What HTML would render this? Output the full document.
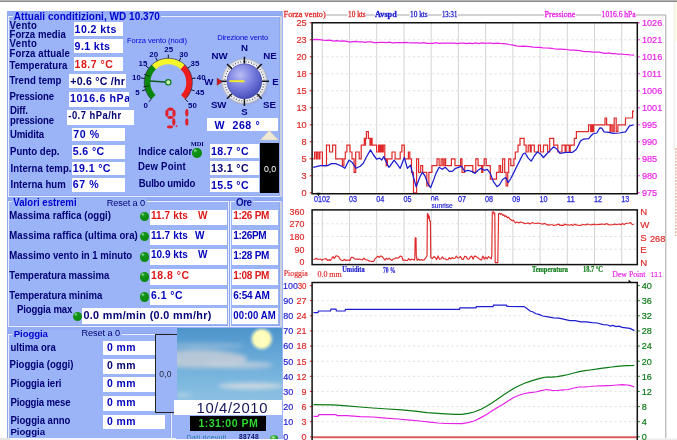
<!DOCTYPE html>
<html><head><meta charset="utf-8"><title>Weather Display</title>
<style>
html,body{margin:0;padding:0;background:#fff;}
body{width:677px;height:440px;position:relative;overflow:hidden;font-family:"Liberation Sans",sans-serif;}
.b{position:absolute;}
.t{position:absolute;white-space:pre;}
svg text{white-space:pre;}
#w{position:absolute;left:0;top:0;width:677px;height:440px;filter:blur(0.35px);}
</style></head><body><div id="w">
<div class="b" style="left:0;top:0;width:677px;height:1px;background:#b4b4b4"></div><div class="b" style="left:0;top:1px;width:677px;height:1px;background:#8a8a8a"></div>
<div class="b" style="left:7.0px;top:11.0px;width:274.6px;height:429.0px;background:#9bb4f7;"></div>
<div class="b" style="left:281.6px;top:11.0px;width:0.4px;height:429.0px;background:#9bb4f7;"></div>
<div class="b" style="left:7.0px;top:11.0px;width:275.0px;height:4.8px;background:#93aef5;"></div>
<div class="b" style="left:7.0px;top:197.0px;width:275.0px;height:4.2px;background:#8eaaf5;"></div>
<div class="b" style="left:7.0px;top:327.0px;width:169.5px;height:6.6px;background:#93aef5;"></div>
<div class="b" style="left:7.6px;top:15.8px;width:273.2px;height:180.79999999999998px;border:1px solid #e9eeff;box-shadow:-0.6px -0.6px 0 #8a9fe0, inset -0.6px -0.6px 0 #8a9fe0;box-sizing:border-box;"></div>
<div class="b" style="left:7.6px;top:201.2px;width:221.4px;height:125.60000000000002px;border:1px solid #e9eeff;box-shadow:-0.6px -0.6px 0 #8a9fe0, inset -0.6px -0.6px 0 #8a9fe0;box-sizing:border-box;"></div>
<div class="b" style="left:230px;top:201.2px;width:50.80000000000001px;height:125.60000000000002px;border:1px solid #e9eeff;box-shadow:-0.6px -0.6px 0 #8a9fe0, inset -0.6px -0.6px 0 #8a9fe0;box-sizing:border-box;"></div>
<div class="b" style="left:7.6px;top:333.6px;width:164.20000000000002px;height:111.39999999999998px;border:1px solid #e9eeff;box-shadow:-0.6px -0.6px 0 #8a9fe0, inset -0.6px -0.6px 0 #8a9fe0;box-sizing:border-box;"></div>
<div class="b" style="left:279.9px;top:16.4px;width:2.5px;height:180.4px;background:#cdd2de;"></div>
<div class="b" style="left:279.9px;top:201.8px;width:2.5px;height:125.2px;background:#cdd2de;"></div>
<div class="b" style="left:13.0px;top:15.0px;width:148.0px;height:7.0px;background:#9bb4f7;"></div>
<div class="b" style="left:12.0px;top:198.0px;width:135.0px;height:10.0px;background:#9bb4f7;"></div>
<div class="b" style="left:235.0px;top:198.0px;width:18.0px;height:10.0px;background:#9bb4f7;"></div>
<div class="b" style="left:12.0px;top:330.0px;width:110.0px;height:10.0px;background:#9bb4f7;"></div>
<span class="t" style="left:13.8px;top:11.93px;font:bold 10px/1 'Liberation Sans', sans-serif;color:#0000d0;letter-spacing:0.033px;transform:scaleY(1.05);transform-origin:0 8.46px;">Attuali conditizioni, WD 10.370</span>
<span class="t" style="left:9.5px;top:21.07px;font:bold 9.6px/1 'Liberation Sans', sans-serif;color:#000074;letter-spacing:0.341px;transform:scaleY(1.08);transform-origin:0 8.13px;">Vento</span>
<span class="t" style="left:9.5px;top:29.87px;font:bold 9.6px/1 'Liberation Sans', sans-serif;color:#000074;letter-spacing:0.029px;transform:scaleY(1.08);transform-origin:0 8.13px;">Forza media</span>
<span class="t" style="left:9.5px;top:39.37px;font:bold 9.6px/1 'Liberation Sans', sans-serif;color:#000074;letter-spacing:0.341px;transform:scaleY(1.08);transform-origin:0 8.13px;">Vento</span>
<span class="t" style="left:9.5px;top:48.67px;font:bold 9.6px/1 'Liberation Sans', sans-serif;color:#000074;letter-spacing:0.091px;transform:scaleY(1.08);transform-origin:0 8.13px;">Forza attuale</span>
<span class="t" style="left:9.5px;top:61.17px;font:bold 9.6px/1 'Liberation Sans', sans-serif;color:#000074;letter-spacing:0.036px;transform:scaleY(1.08);transform-origin:0 8.13px;">Temperatura</span>
<span class="t" style="left:9.5px;top:75.77px;font:bold 9.6px/1 'Liberation Sans', sans-serif;color:#000074;letter-spacing:0.029px;transform:scaleY(1.08);transform-origin:0 8.13px;">Trend temp</span>
<span class="t" style="left:9.5px;top:92.17px;font:bold 9.6px/1 'Liberation Sans', sans-serif;color:#000074;letter-spacing:-0.174px;transform:scaleY(1.08);transform-origin:0 8.13px;">Pressione</span>
<span class="t" style="left:10.0px;top:105.97px;font:bold 9.6px/1 'Liberation Sans', sans-serif;color:#000074;letter-spacing:-0.165px;transform:scaleY(1.08);transform-origin:0 8.13px;">Diff.</span>
<span class="t" style="left:10.0px;top:116.07px;font:bold 9.6px/1 'Liberation Sans', sans-serif;color:#000074;letter-spacing:-0.168px;transform:scaleY(1.08);transform-origin:0 8.13px;">pressione</span>
<span class="t" style="left:10.0px;top:129.87px;font:bold 9.6px/1 'Liberation Sans', sans-serif;color:#000074;letter-spacing:-0.200px;transform:scaleY(1.08);transform-origin:0 8.13px;">Umidita</span>
<span class="t" style="left:10.0px;top:146.97px;font:bold 9.6px/1 'Liberation Sans', sans-serif;color:#000074;letter-spacing:-0.010px;transform:scaleY(1.08);transform-origin:0 8.13px;">Punto dep.</span>
<span class="t" style="left:10.5px;top:163.77px;font:bold 9.6px/1 'Liberation Sans', sans-serif;color:#000074;letter-spacing:0.061px;transform:scaleY(1.08);transform-origin:0 8.13px;">Interna temp.</span>
<span class="t" style="left:10.5px;top:180.07px;font:bold 9.6px/1 'Liberation Sans', sans-serif;color:#000074;letter-spacing:0.037px;transform:scaleY(1.08);transform-origin:0 8.13px;">Interna hum</span>
<div class="b" style="left:73.6px;top:22.0px;width:49.0px;height:14.4px;background:#fff;"></div>
<span class="t" style="left:74.6px;top:24.03px;font:bold 10.6px/1 'Liberation Sans', sans-serif;color:#0000bc;letter-spacing:0.401px;transform:scaleY(1.07);transform-origin:0 8.97px;">10.2 kts</span>
<div class="b" style="left:73.6px;top:39.4px;width:49.0px;height:14.1px;background:#fff;"></div>
<span class="t" style="left:74.6px;top:41.03px;font:bold 10.6px/1 'Liberation Sans', sans-serif;color:#0000bc;letter-spacing:0.400px;transform:scaleY(1.07);transform-origin:0 8.97px;">9.1 kts</span>
<div class="b" style="left:73.6px;top:57.3px;width:49.0px;height:13.7px;background:#fff;"></div>
<span class="t" style="left:74.6px;top:59.13px;font:bold 10.6px/1 'Liberation Sans', sans-serif;color:#dc1818;letter-spacing:0.489px;transform:scaleY(1.07);transform-origin:0 8.97px;">18.7 °C</span>
<div class="b" style="left:69.0px;top:74.0px;width:56.6px;height:14.0px;background:#fff;overflow:hidden"></div>
<span class="t" style="left:70.3px;top:75.53px;font:bold 10.6px/1 'Liberation Sans', sans-serif;color:#000074;letter-spacing:0.235px;transform:scaleY(1.07);transform-origin:0 8.97px;">+0.6 °C /hr</span>
<div class="b" style="left:69.0px;top:92.2px;width:60.4px;height:14.6px;background:#fff;"></div>
<div class="b" style="left:69px;top:92.2px;width:60.4px;height:14.6px;overflow:hidden"><span class="t" style="left:0.9px;top:0.83px;font:bold 10.6px/1 'Liberation Sans', sans-serif;color:#0000bc;letter-spacing:0.600px;transform:scaleY(1.07);transform-origin:0 8.97px;">1016.6 hPa</span></div>
<div class="b" style="left:67.3px;top:110.0px;width:67.1px;height:14.6px;background:#fff;"></div>
<span class="t" style="left:68.3px;top:111.14px;font:bold 9.4px/1 'Liberation Sans', sans-serif;color:#000074;letter-spacing:0.494px;transform:scaleY(1.07);transform-origin:0 7.96px;">-0.7 hPa/hr</span>
<div class="b" style="left:72.3px;top:127.6px;width:52.7px;height:13.8px;background:#fff;"></div>
<span class="t" style="left:73.3px;top:128.53px;font:bold 10.6px/1 'Liberation Sans', sans-serif;color:#0000bc;letter-spacing:0.580px;transform:scaleY(1.07);transform-origin:0 8.97px;">70 %</span>
<div class="b" style="left:72.3px;top:144.7px;width:52.7px;height:14.3px;background:#fff;"></div>
<span class="t" style="left:72.8px;top:146.13px;font:bold 10.6px/1 'Liberation Sans', sans-serif;color:#0000bc;letter-spacing:0.366px;transform:scaleY(1.07);transform-origin:0 8.97px;">5.6 °C</span>
<div class="b" style="left:72.3px;top:162.3px;width:52.7px;height:13.1px;background:#fff;"></div>
<span class="t" style="left:72.8px;top:162.93px;font:bold 10.6px/1 'Liberation Sans', sans-serif;color:#0000bc;letter-spacing:0.372px;transform:scaleY(1.07);transform-origin:0 8.97px;">19.1 °C</span>
<div class="b" style="left:72.3px;top:178.4px;width:52.7px;height:14.0px;background:#fff;"></div>
<span class="t" style="left:72.8px;top:179.23px;font:bold 10.6px/1 'Liberation Sans', sans-serif;color:#0000bc;letter-spacing:0.580px;transform:scaleY(1.07);transform-origin:0 8.97px;">67 %</span>
<span class="t" style="left:138.3px;top:146.57px;font:bold 9.6px/1 'Liberation Sans', sans-serif;color:#000074;letter-spacing:0.059px;transform:scaleY(1.08);transform-origin:0 8.13px;">Indice calore</span>
<span class="t" style="left:138.0px;top:162.17px;font:bold 9.6px/1 'Liberation Sans', sans-serif;color:#000074;letter-spacing:0.175px;transform:scaleY(1.08);transform-origin:0 8.13px;">Dew Point</span>
<span class="t" style="left:138.8px;top:179.17px;font:bold 9.6px/1 'Liberation Sans', sans-serif;color:#000074;letter-spacing:-0.215px;transform:scaleY(1.08);transform-origin:0 8.13px;">Bulbo umido</span>
<span class="t" style="left:190.8px;top:141.44px;font:bold 6.4px/1 'Liberation Serif', serif;color:#000074;letter-spacing:-0.077px;">MDI</span>
<div class="b" style="left:192.3px;top:148.2px;width:9.6px;height:9.6px;border-radius:50%;background:radial-gradient(circle at 32% 26%,#9ae89a 0%,#14941a 20%,#0b880b 78%,#087008 100%);"></div>
<div class="b" style="left:209.7px;top:143.9px;width:49.0px;height:13.8px;background:#fff;"></div>
<span class="t" style="left:210.9px;top:145.73px;font:bold 10.6px/1 'Liberation Sans', sans-serif;color:#0000bc;letter-spacing:0.372px;transform:scaleY(1.07);transform-origin:0 8.97px;">18.7 °C</span>
<div class="b" style="left:209.7px;top:161.0px;width:49.0px;height:13.6px;background:#fff;"></div>
<span class="t" style="left:210.9px;top:162.73px;font:bold 10.6px/1 'Liberation Sans', sans-serif;color:#000074;letter-spacing:0.372px;transform:scaleY(1.07);transform-origin:0 8.97px;">13.1 °C</span>
<div class="b" style="left:209.7px;top:178.0px;width:49.0px;height:13.7px;background:#fff;"></div>
<span class="t" style="left:210.9px;top:180.03px;font:bold 10.6px/1 'Liberation Sans', sans-serif;color:#0000bc;letter-spacing:0.372px;transform:scaleY(1.07);transform-origin:0 8.97px;">15.5 °C</span>
<div class="b" style="left:206.8px;top:118.0px;width:70.9px;height:12.5px;background:#fff;"></div>
<span class="t" style="left:214.4px;top:119.73px;font:bold 10.6px/1 'Liberation Sans', sans-serif;color:#0000bc;letter-spacing:0.395px;transform:scaleY(1.07);transform-origin:0 8.97px;">W</span>
<span class="t" style="left:232.6px;top:119.73px;font:bold 10.6px/1 'Liberation Sans', sans-serif;color:#0000bc;letter-spacing:0.458px;transform:scaleY(1.07);transform-origin:0 8.97px;">268</span>
<span class="t" style="left:255.6px;top:119.73px;font:bold 10.6px/1 'Liberation Sans', sans-serif;color:#0000bc;letter-spacing:-0.238px;transform:scaleY(1.07);transform-origin:0 8.97px;">°</span>
<svg class="b" style="left:258px;top:129px" width="22" height="13" viewBox="0 0 22 13"><polygon points="2.4,11 11.2,1.4 20.4,11" fill="#efe9d6" stroke="#cfcab8" stroke-width="0.6"/></svg>
<div class="b" style="left:260.4px;top:143.4px;width:18.9px;height:50.0px;background:#000;"></div>
<span class="t" style="left:264.1px;top:165.45px;font:normal 8.8px/1 'Liberation Sans', sans-serif;color:#fff;letter-spacing:-0.116px;">0,0</span>
<span class="t" style="left:127.0px;top:36.57px;font:normal 7.6px/1 'Liberation Sans', sans-serif;color:#0404d4;letter-spacing:-0.098px;">Forza vento (nodi)</span>
<span class="t" style="left:217.2px;top:33.77px;font:normal 7.6px/1 'Liberation Sans', sans-serif;color:#0404d4;letter-spacing:-0.129px;">Direzione vento</span>
<span class="t" style="left:13.3px;top:198.27px;font:bold 9.6px/1 'Liberation Sans', sans-serif;color:#0000d0;letter-spacing:0.026px;transform:scaleY(1.06);transform-origin:0 8.13px;">Valori estremi</span>
<span class="t" style="left:106.7px;top:198.61px;font:normal 9.2px/1 'Liberation Sans', sans-serif;color:#000074;letter-spacing:-0.109px;">Reset a 0</span>
<span class="t" style="left:236.0px;top:198.10px;font:bold 9.8px/1 'Liberation Sans', sans-serif;color:#0c0c98;letter-spacing:-0.443px;transform:scaleY(1.06);transform-origin:0 8.30px;">Ore</span>
<span class="t" style="left:9.3px;top:211.07px;font:bold 9.6px/1 'Liberation Sans', sans-serif;color:#000074;letter-spacing:0.017px;transform:scaleY(1.08);transform-origin:0 8.13px;">Massima raffica (oggi)</span>
<span class="t" style="left:9.3px;top:231.17px;font:bold 9.6px/1 'Liberation Sans', sans-serif;color:#000074;letter-spacing:0.057px;transform:scaleY(1.08);transform-origin:0 8.13px;">Massima raffica (ultima ora)</span>
<span class="t" style="left:9.3px;top:251.17px;font:bold 9.6px/1 'Liberation Sans', sans-serif;color:#000074;letter-spacing:-0.009px;transform:scaleY(1.08);transform-origin:0 8.13px;">Massimo vento in 1 minuto</span>
<span class="t" style="left:9.3px;top:271.37px;font:bold 9.6px/1 'Liberation Sans', sans-serif;color:#000074;letter-spacing:-0.067px;transform:scaleY(1.08);transform-origin:0 8.13px;">Temperatura massima</span>
<span class="t" style="left:9.3px;top:290.77px;font:bold 9.6px/1 'Liberation Sans', sans-serif;color:#000074;letter-spacing:-0.042px;transform:scaleY(1.08);transform-origin:0 8.13px;">Temperatura minima</span>
<div class="b" style="left:150.0px;top:209.8px;width:76.7px;height:15.3px;background:#fff;"></div>
<div class="b" style="left:231.9px;top:209.8px;width:46.6px;height:15.3px;background:#fff;"></div>
<div class="b" style="left:150.0px;top:229.6px;width:76.7px;height:15.3px;background:#fff;"></div>
<div class="b" style="left:231.9px;top:229.6px;width:46.6px;height:15.3px;background:#fff;"></div>
<div class="b" style="left:150.0px;top:249.4px;width:76.7px;height:15.5px;background:#fff;"></div>
<div class="b" style="left:231.9px;top:249.4px;width:46.6px;height:15.5px;background:#fff;"></div>
<div class="b" style="left:150.0px;top:269.3px;width:76.7px;height:15.8px;background:#fff;"></div>
<div class="b" style="left:231.9px;top:269.3px;width:46.6px;height:15.8px;background:#fff;"></div>
<div class="b" style="left:150.0px;top:289.3px;width:76.7px;height:15.4px;background:#fff;"></div>
<div class="b" style="left:231.9px;top:289.3px;width:46.6px;height:15.4px;background:#fff;"></div>
<div class="b" style="left:139.8px;top:212.0px;width:9.4px;height:9.4px;border-radius:50%;background:radial-gradient(circle at 32% 26%,#9ae89a 0%,#14941a 20%,#0b880b 78%,#087008 100%);"></div>
<div class="b" style="left:139.8px;top:231.9px;width:9.4px;height:9.4px;border-radius:50%;background:radial-gradient(circle at 32% 26%,#9ae89a 0%,#14941a 20%,#0b880b 78%,#087008 100%);"></div>
<div class="b" style="left:139.8px;top:252.3px;width:9.4px;height:9.4px;border-radius:50%;background:radial-gradient(circle at 32% 26%,#9ae89a 0%,#14941a 20%,#0b880b 78%,#087008 100%);"></div>
<div class="b" style="left:139.8px;top:272.4px;width:9.4px;height:9.4px;border-radius:50%;background:radial-gradient(circle at 32% 26%,#9ae89a 0%,#14941a 20%,#0b880b 78%,#087008 100%);"></div>
<div class="b" style="left:139.8px;top:292.2px;width:9.4px;height:9.4px;border-radius:50%;background:radial-gradient(circle at 32% 26%,#9ae89a 0%,#14941a 20%,#0b880b 78%,#087008 100%);"></div>
<span class="t" style="left:150.9px;top:210.74px;font:bold 10px/1 'Liberation Sans', sans-serif;color:#dc1818;letter-spacing:0.123px;transform:scaleY(1.07);transform-origin:0 8.46px;">11.7 kts</span>
<span class="t" style="left:198.1px;top:210.74px;font:bold 10px/1 'Liberation Sans', sans-serif;color:#dc1818;letter-spacing:0.661px;transform:scaleY(1.07);transform-origin:0 8.46px;">W</span>
<span class="t" style="left:150.9px;top:230.64px;font:bold 10px/1 'Liberation Sans', sans-serif;color:#0000bc;letter-spacing:0.123px;transform:scaleY(1.07);transform-origin:0 8.46px;">11.7 kts</span>
<span class="t" style="left:194.9px;top:230.64px;font:bold 10px/1 'Liberation Sans', sans-serif;color:#0000bc;letter-spacing:0.661px;transform:scaleY(1.07);transform-origin:0 8.46px;">W</span>
<span class="t" style="left:150.9px;top:250.23px;font:bold 10px/1 'Liberation Sans', sans-serif;color:#0000bc;letter-spacing:0.044px;transform:scaleY(1.07);transform-origin:0 8.46px;">10.9 kts</span>
<span class="t" style="left:198.1px;top:250.23px;font:bold 10px/1 'Liberation Sans', sans-serif;color:#0000bc;letter-spacing:0.661px;transform:scaleY(1.07);transform-origin:0 8.46px;">W</span>
<span class="t" style="left:150.9px;top:271.10px;font:bold 10.4px/1 'Liberation Sans', sans-serif;color:#dc1818;letter-spacing:0.567px;transform:scaleY(1.07);transform-origin:0 8.80px;">18.8 °C</span>
<span class="t" style="left:150.9px;top:291.00px;font:bold 10.4px/1 'Liberation Sans', sans-serif;color:#0000bc;letter-spacing:0.537px;transform:scaleY(1.07);transform-origin:0 8.80px;">6.1 °C</span>
<span class="t" style="left:233.2px;top:210.74px;font:bold 10px/1 'Liberation Sans', sans-serif;color:#dc1818;letter-spacing:-0.265px;transform:scaleY(1.07);transform-origin:0 8.46px;">1:26 PM</span>
<span class="t" style="left:233.2px;top:230.84px;font:bold 10px/1 'Liberation Sans', sans-serif;color:#0000bc;letter-spacing:-0.303px;transform:scaleY(1.07);transform-origin:0 8.46px;">1:26PM</span>
<span class="t" style="left:233.2px;top:250.84px;font:bold 10px/1 'Liberation Sans', sans-serif;color:#0000bc;letter-spacing:-0.265px;transform:scaleY(1.07);transform-origin:0 8.46px;">1:28 PM</span>
<span class="t" style="left:233.2px;top:271.04px;font:bold 10px/1 'Liberation Sans', sans-serif;color:#dc1818;letter-spacing:-0.265px;transform:scaleY(1.07);transform-origin:0 8.46px;">1:08 PM</span>
<span class="t" style="left:233.2px;top:290.64px;font:bold 10px/1 'Liberation Sans', sans-serif;color:#0000bc;letter-spacing:-0.212px;transform:scaleY(1.07);transform-origin:0 8.46px;">6:54 AM</span>
<span class="t" style="left:17.0px;top:304.87px;font:bold 9.6px/1 'Liberation Sans', sans-serif;color:#000074;letter-spacing:-0.115px;transform:scaleY(1.08);transform-origin:0 8.13px;">Pioggia max</span>
<div class="b" style="left:82.2px;top:308.4px;width:144.5px;height:15.7px;background:#fff;"></div>
<div class="b" style="left:231.9px;top:308.4px;width:46.6px;height:15.7px;background:#fff;"></div>
<div class="b" style="left:72.7px;top:311.6px;width:9.2px;height:9.2px;border-radius:50%;background:radial-gradient(circle at 32% 26%,#9ae89a 0%,#14941a 20%,#0b880b 78%,#087008 100%);"></div>
<span class="t" style="left:83.4px;top:309.86px;font:bold 10.8px/1 'Liberation Sans', sans-serif;color:#000074;letter-spacing:0.351px;transform:scaleY(1.07);transform-origin:0 9.14px;">0.0 mm/min (0.0 mm/hr)</span>
<span class="t" style="left:233.3px;top:311.17px;font:bold 9.6px/1 'Liberation Sans', sans-serif;color:#0000bc;letter-spacing:0.101px;transform:scaleY(1.07);transform-origin:0 8.13px;">00:00 AM</span>
<span class="t" style="left:13.8px;top:328.87px;font:bold 9.6px/1 'Liberation Sans', sans-serif;color:#0000d0;letter-spacing:-0.111px;">Pioggia</span>
<span class="t" style="left:81.6px;top:329.21px;font:normal 9.2px/1 'Liberation Sans', sans-serif;color:#000074;letter-spacing:-0.109px;">Reset a 0</span>
<span class="t" style="left:10.5px;top:342.97px;font:bold 9.6px/1 'Liberation Sans', sans-serif;color:#000074;letter-spacing:-0.064px;transform:scaleY(1.08);transform-origin:0 8.13px;">ultima ora</span>
<div class="b" style="left:102.7px;top:340.8px;width:52.1px;height:14.7px;background:#fff;"></div>
<span class="t" style="left:107.0px;top:342.80px;font:bold 10.4px/1 'Liberation Sans', sans-serif;color:#0000bc;letter-spacing:0.411px;transform:scaleY(1.07);transform-origin:0 8.80px;">0 mm</span>
<span class="t" style="left:9.5px;top:360.37px;font:bold 9.6px/1 'Liberation Sans', sans-serif;color:#000074;letter-spacing:-0.006px;transform:scaleY(1.08);transform-origin:0 8.13px;">Pioggia (oggi)</span>
<div class="b" style="left:102.7px;top:359.0px;width:52.1px;height:14.8px;background:#fff;"></div>
<span class="t" style="left:107.0px;top:360.90px;font:bold 10.4px/1 'Liberation Sans', sans-serif;color:#000074;letter-spacing:0.411px;transform:scaleY(1.07);transform-origin:0 8.80px;">0 mm</span>
<span class="t" style="left:10.5px;top:379.17px;font:bold 9.6px/1 'Liberation Sans', sans-serif;color:#000074;letter-spacing:-0.067px;transform:scaleY(1.08);transform-origin:0 8.13px;">Pioggia ieri</span>
<div class="b" style="left:102.7px;top:377.2px;width:52.1px;height:14.9px;background:#fff;"></div>
<span class="t" style="left:107.0px;top:379.20px;font:bold 10.4px/1 'Liberation Sans', sans-serif;color:#0000bc;letter-spacing:0.411px;transform:scaleY(1.07);transform-origin:0 8.80px;">0 mm</span>
<span class="t" style="left:10.5px;top:398.17px;font:bold 9.6px/1 'Liberation Sans', sans-serif;color:#000074;letter-spacing:-0.171px;transform:scaleY(1.08);transform-origin:0 8.13px;">Pioggia mese</span>
<div class="b" style="left:102.7px;top:395.5px;width:52.1px;height:15.2px;background:#fff;"></div>
<span class="t" style="left:107.0px;top:397.80px;font:bold 10.4px/1 'Liberation Sans', sans-serif;color:#0000bc;letter-spacing:0.411px;transform:scaleY(1.07);transform-origin:0 8.80px;">0 mm</span>
<span class="t" style="left:10.5px;top:415.97px;font:bold 9.6px/1 'Liberation Sans', sans-serif;color:#000074;letter-spacing:-0.024px;transform:scaleY(1.08);transform-origin:0 8.13px;">Pioggia anno</span>
<div class="b" style="left:102.7px;top:414.5px;width:62.3px;height:14.9px;background:#fff;"></div>
<span class="t" style="left:107.0px;top:416.80px;font:bold 10.4px/1 'Liberation Sans', sans-serif;color:#0000bc;letter-spacing:0.411px;transform:scaleY(1.07);transform-origin:0 8.80px;">0 mm</span>
<div class="b" style="left:7px;top:426px;width:100px;height:10.8px;overflow:hidden"><span class="t" style="left:3.5px;top:1.27px;font:bold 9.6px/1 'Liberation Sans', sans-serif;color:#000074;letter-spacing:-0.028px;">Pioggia</span></div>
<div class="b" style="left:155.4px;top:333.8px;width:21.2px;height:79.4px;border:1.4px solid #222;border-right:none;box-sizing:border-box;background:#9bb4f7"></div>
<span class="t" style="left:159.3px;top:369.72px;font:normal 8.6px/1 'Liberation Sans', sans-serif;color:#2a2a40;letter-spacing:0.173px;">0,0</span>
<svg class="b" style="left:0;top:0" width="290" height="200" viewBox="0 0 290 200">
<defs><radialGradient id="sph" cx="38%" cy="32%" r="75%"><stop offset="0" stop-color="#b8bcf4"/><stop offset="0.45" stop-color="#7e84e2"/><stop offset="1" stop-color="#3e46b6"/></radialGradient><radialGradient id="ring" cx="50%" cy="50%" r="50%"><stop offset="0.7" stop-color="#ffffff"/><stop offset="0.9" stop-color="#eef0f4"/><stop offset="1" stop-color="#b8bcc8"/></radialGradient></defs>
<path d="M153.45,97.15 A21,21 0 0 1 153.92,66.99" fill="none" stroke="#0a860a" stroke-width="6"/>
<path d="M153.92,66.99 A21,21 0 0 1 182.68,66.99" fill="none" stroke="#f6f628" stroke-width="6"/>
<path d="M182.68,66.99 A21,21 0 0 1 183.15,97.15" fill="none" stroke="#ec1c1c" stroke-width="6"/>
<path d="M151.26,99.34 A24.1,24.1 0 1 1 185.34,99.34" fill="none" stroke="#202040" stroke-width="0.6"/>
<line x1="151.33" y1="99.27" x2="148.78" y2="101.82" stroke="#101030" stroke-width="1"/>
<line x1="145.47" y1="89.72" x2="142.05" y2="90.83" stroke="#101030" stroke-width="1"/>
<line x1="144.60" y1="78.55" x2="141.04" y2="77.98" stroke="#101030" stroke-width="1"/>
<line x1="148.88" y1="68.19" x2="145.97" y2="66.08" stroke="#101030" stroke-width="1"/>
<line x1="157.40" y1="60.92" x2="155.77" y2="57.71" stroke="#101030" stroke-width="1"/>
<line x1="168.30" y1="58.30" x2="168.30" y2="54.70" stroke="#101030" stroke-width="1"/>
<line x1="179.20" y1="60.92" x2="180.83" y2="57.71" stroke="#101030" stroke-width="1"/>
<line x1="187.72" y1="68.19" x2="190.63" y2="66.08" stroke="#101030" stroke-width="1"/>
<line x1="192.00" y1="78.55" x2="195.56" y2="77.98" stroke="#101030" stroke-width="1"/>
<line x1="191.13" y1="89.72" x2="194.55" y2="90.83" stroke="#101030" stroke-width="1"/>
<line x1="185.27" y1="99.27" x2="187.82" y2="101.82" stroke="#101030" stroke-width="1"/>
<line x1="168.3" y1="82.3" x2="149.75" y2="80.96" stroke="#0a5a1a" stroke-width="1.6"/>
<line x1="149.12" y1="85.83" x2="143.22" y2="86.92" stroke="#102010" stroke-width="0.8"/>
<line x1="149.77" y1="76.22" x2="144.07" y2="74.34" stroke="#102010" stroke-width="0.8"/>
<circle cx="168.3" cy="82.3" r="2.7" fill="#ccf0b4" stroke="#0a7a1a" stroke-width="1.2"/>
<text x="145.7" y="107.6" text-anchor="middle" font-family="Liberation Sans, sans-serif" font-weight="bold" font-size="7.9" fill="#000080">0</text>
<text x="137.5" y="95.1" text-anchor="middle" font-family="Liberation Sans, sans-serif" font-weight="bold" font-size="7.9" fill="#000080">5</text>
<text x="136.5" y="79.89999999999999" text-anchor="middle" font-family="Liberation Sans, sans-serif" font-weight="bold" font-size="7.9" fill="#000080">10</text>
<text x="143" y="65.89999999999999" text-anchor="middle" font-family="Liberation Sans, sans-serif" font-weight="bold" font-size="7.9" fill="#000080">15</text>
<text x="153.7" y="56.6" text-anchor="middle" font-family="Liberation Sans, sans-serif" font-weight="bold" font-size="7.9" fill="#000080">20</text>
<text x="168.7" y="51.6" text-anchor="middle" font-family="Liberation Sans, sans-serif" font-weight="bold" font-size="7.9" fill="#000080">25</text>
<text x="183.7" y="56.6" text-anchor="middle" font-family="Liberation Sans, sans-serif" font-weight="bold" font-size="7.9" fill="#000080">30</text>
<text x="195" y="65.89999999999999" text-anchor="middle" font-family="Liberation Sans, sans-serif" font-weight="bold" font-size="7.9" fill="#000080">35</text>
<text x="201.2" y="80.19999999999999" text-anchor="middle" font-family="Liberation Sans, sans-serif" font-weight="bold" font-size="7.9" fill="#000080">40</text>
<text x="200" y="95.1" text-anchor="middle" font-family="Liberation Sans, sans-serif" font-weight="bold" font-size="7.9" fill="#000080">45</text>
<text x="192.5" y="107.6" text-anchor="middle" font-family="Liberation Sans, sans-serif" font-weight="bold" font-size="7.9" fill="#000080">50</text>
<ellipse cx="170.4" cy="109.2" rx="3.1" ry="1.6" fill="#e0202c"/>
<ellipse cx="166.9" cy="113.2" rx="1.6" ry="3.6" fill="#e0202c"/>
<ellipse cx="174" cy="113.2" rx="1.6" ry="3.6" fill="#e0202c"/>
<ellipse cx="170.4" cy="117.3" rx="3.1" ry="1.6" fill="#e0202c"/>
<ellipse cx="173.8" cy="121.9" rx="1.6" ry="3.6" fill="#e0202c"/>
<ellipse cx="170" cy="126.8" rx="3.1" ry="1.6" fill="#e0202c"/>
<circle cx="176.5" cy="126.2" r="0.9" fill="#e0202c"/>
<ellipse cx="186.8" cy="112.8" rx="1.6" ry="3.7" fill="#e0202c"/>
<ellipse cx="186.8" cy="121.9" rx="1.6" ry="3.7" fill="#e0202c"/>
<circle cx="245.0" cy="82.1" r="23" fill="#8f98c8" opacity="0.55"/>
<circle cx="244.4" cy="81.3" r="22.6" fill="url(#ring)" stroke="#b4b8c6" stroke-width="0.6"/>
<circle cx="244.4" cy="81.3" r="19.6" fill="none" stroke="#2a2a3a" stroke-width="1.3" stroke-dasharray="0.75 1.99"/>
<line x1="244.40" y1="63.70" x2="244.40" y2="56.70" stroke="#14141c" stroke-width="1.5"/>
<line x1="256.85" y1="68.85" x2="261.79" y2="63.91" stroke="#14141c" stroke-width="1.5"/>
<line x1="262.00" y1="81.30" x2="269.00" y2="81.30" stroke="#14141c" stroke-width="1.5"/>
<line x1="256.85" y1="93.75" x2="261.79" y2="98.69" stroke="#14141c" stroke-width="1.5"/>
<line x1="244.40" y1="98.90" x2="244.40" y2="105.90" stroke="#14141c" stroke-width="1.5"/>
<line x1="231.95" y1="93.75" x2="227.01" y2="98.69" stroke="#14141c" stroke-width="1.5"/>
<line x1="226.80" y1="81.30" x2="219.80" y2="81.30" stroke="#14141c" stroke-width="1.5"/>
<line x1="231.95" y1="68.85" x2="227.01" y2="63.91" stroke="#14141c" stroke-width="1.5"/>
<circle cx="244.4" cy="81.3" r="17.4" fill="url(#sph)" stroke="#3c40a0" stroke-width="0.7"/>
<line x1="244.4" y1="81.3" x2="229.4" y2="81.1" stroke="#f4ea20" stroke-width="1.9"/>
<polygon points="217.2,78.2 217.2,85.2 222,81.7" fill="#d81818" stroke="#7a1010" stroke-width="0.5"/>
<text x="244.5" y="51.4" text-anchor="middle" font-family="Liberation Sans, sans-serif" font-weight="bold" font-size="9.7" fill="#000080">N</text>
<text x="270" y="58.699999999999996" text-anchor="middle" font-family="Liberation Sans, sans-serif" font-weight="bold" font-size="9.7" fill="#000080">NE</text>
<text x="275.6" y="84.80000000000001" text-anchor="middle" font-family="Liberation Sans, sans-serif" font-weight="bold" font-size="9.7" fill="#000080">E</text>
<text x="269.5" y="108.10000000000001" text-anchor="middle" font-family="Liberation Sans, sans-serif" font-weight="bold" font-size="9.7" fill="#000080">SE</text>
<text x="244.5" y="115.0" text-anchor="middle" font-family="Liberation Sans, sans-serif" font-weight="bold" font-size="9.7" fill="#000080">S</text>
<text x="218.7" y="108.10000000000001" text-anchor="middle" font-family="Liberation Sans, sans-serif" font-weight="bold" font-size="9.7" fill="#000080">SW</text>
<text x="208.8" y="84.80000000000001" text-anchor="middle" font-family="Liberation Sans, sans-serif" font-weight="bold" font-size="9.7" fill="#000080">W</text>
<text x="219.5" y="59.3" text-anchor="middle" font-family="Liberation Sans, sans-serif" font-weight="bold" font-size="9.7" fill="#000080">NW</text>
</svg>
<svg class="b" style="left:176.5px;top:328px" width="105" height="72" viewBox="0 0 105 72">
<defs><linearGradient id="skyg" x1="0" y1="0" x2="0" y2="1"><stop offset="0" stop-color="#4d94cb"/><stop offset="0.35" stop-color="#64a6d6"/><stop offset="0.75" stop-color="#7db8df"/><stop offset="1" stop-color="#8cc0e2"/></linearGradient><radialGradient id="sun" cx="50%" cy="50%" r="50%"><stop offset="0" stop-color="#ffffc4"/><stop offset="0.6" stop-color="#fdfbb6"/><stop offset="0.75" stop-color="#d8e6c4" stop-opacity="0.7"/><stop offset="1" stop-color="#7ab4dc" stop-opacity="0"/></radialGradient><filter id="bl" x="-30%" y="-150%" width="160%" height="400%"><feGaussianBlur stdDeviation="2.2"/></filter></defs>
<rect width="105" height="72" fill="url(#skyg)"/>
<g filter="url(#bl)"><ellipse cx="20" cy="31" rx="50" ry="9" fill="#c4ccd8" opacity="0.85"/><ellipse cx="62" cy="37" rx="34" ry="3.6" fill="#c8d2de" opacity="0.75"/><ellipse cx="25" cy="18" rx="42" ry="3" fill="#a8c4dc" opacity="0.55"/><ellipse cx="74" cy="58" rx="33" ry="3.2" fill="#d2dae2" opacity="0.9"/><ellipse cx="6" cy="67" rx="9" ry="1.2" fill="#d8e2ea" opacity="0.8"/></g>
<circle cx="84.7" cy="11" r="13" fill="url(#sun)"/>
</svg>
<div class="b" style="left:174.4px;top:400.3px;width:107.3px;height:15.1px;background:#fff"></div>
<span class="t" style="left:196.6px;top:401.07px;font:normal 14.8px/1 'Liberation Sans', sans-serif;color:#16165c;letter-spacing:0.621px;">10/4/2010</span>
<div class="b" style="left:189.5px;top:416px;width:76.5px;height:15.4px;background:#000"></div>
<span class="t" style="left:198.4px;top:417.73px;font:bold 10.6px/1 'Liberation Sans', sans-serif;color:#2ed82e;letter-spacing:0.447px;transform:scaleY(1.1);transform-origin:0 8.97px;">1:31:00 PM</span>
<div class="b" style="left:176px;top:431.4px;width:108px;height:7.3px;overflow:hidden"><span class="t" style="left:10.8px;top:3.14px;font:normal 6.8px/1 'Liberation Sans', sans-serif;color:#1e6e96;letter-spacing:0.340px;">Dati ricevuti</span><span class="t" style="left:63.0px;top:2.11px;font:bold 6.6px/1 'Liberation Sans', sans-serif;color:#101070;letter-spacing:0.312px;">88748</span><div class="b" style="left:93.8px;top:4px;width:7.8px;height:7.8px;border-radius:50%;background:radial-gradient(circle at 40% 30%,#a8e8a8 0%,#1a9a1a 45%,#064a06 100%)"></div></div>
<svg class="b" style="left:0;top:0" width="677" height="440" viewBox="0 0 677 440">
<path d="M284,15 H665.8 V438.4" fill="none" stroke="#9a9a9a" stroke-width="0.9"/>
<line x1="674.2" y1="2" x2="674.2" y2="150" stroke="#e4e4da" stroke-width="0.8"/>
<rect x="674.6" y="2" width="2.4" height="40" fill="#fbfbe6"/>
<line x1="675.8" y1="148" x2="675.8" y2="236" stroke="#dca890" stroke-width="1.6" stroke-dasharray="2 1.2" opacity="0.8"/>
<rect x="640" y="438.6" width="37" height="1.4" fill="#ececec"/>
<rect x="283.1" y="9" width="43.10000000000001" height="10" fill="#fff"/><text stroke="#e02828" stroke-width="0.3" x="283.5" y="17" font-family="Liberation Serif, serif" font-size="8.4" font-weight="normal" fill="#e02828" stroke="#e02828" stroke-width="0.18" text-anchor="start" textLength="42.3" lengthAdjust="spacingAndGlyphs">Forza vento)</text>
<rect x="347.6" y="9" width="18.49999999999999" height="10" fill="#fff"/><text stroke="#e02828" stroke-width="0.3" x="348" y="17" font-family="Liberation Serif, serif" font-size="8.4" font-weight="normal" fill="#e02828" stroke="#e02828" stroke-width="0.18" text-anchor="start" textLength="17.7" lengthAdjust="spacingAndGlyphs">10 kts</text>
<rect x="374.6" y="9" width="22.49999999999999" height="10" fill="#fff"/><text stroke="#1c1cd0" stroke-width="0.3" x="375" y="17" font-family="Liberation Serif, serif" font-size="8.4" font-weight="bold" fill="#1c1cd0" stroke="#1c1cd0" stroke-width="0.18" text-anchor="start" textLength="21.7" lengthAdjust="spacingAndGlyphs">Avspd</text>
<rect x="409.6" y="9" width="18.49999999999999" height="10" fill="#fff"/><text stroke="#1c1cd0" stroke-width="0.3" x="410" y="17" font-family="Liberation Serif, serif" font-size="8.4" font-weight="normal" fill="#1c1cd0" stroke="#1c1cd0" stroke-width="0.18" text-anchor="start" textLength="17.7" lengthAdjust="spacingAndGlyphs">10 kts</text>
<rect x="441.5" y="9" width="16.200000000000035" height="10" fill="#fff"/><text stroke="#1c1cd0" stroke-width="0.3" x="441.9" y="17" font-family="Liberation Serif, serif" font-size="8.4" font-weight="normal" fill="#1c1cd0" stroke="#1c1cd0" stroke-width="0.18" text-anchor="start" textLength="15.4" lengthAdjust="spacingAndGlyphs">13:31</text>
<rect x="544.2" y="9" width="31.599999999999955" height="10" fill="#fff"/><text stroke="#e820e8" stroke-width="0.3" x="544.6" y="17" font-family="Liberation Serif, serif" font-size="8.4" font-weight="normal" fill="#e820e8" stroke="#e820e8" stroke-width="0.18" text-anchor="start" textLength="30.8" lengthAdjust="spacingAndGlyphs">Pressione</text>
<rect x="601.2" y="9" width="34.90000000000002" height="10" fill="#fff"/><text stroke="#e820e8" stroke-width="0.3" x="601.6" y="17" font-family="Liberation Serif, serif" font-size="8.4" font-weight="normal" fill="#e820e8" stroke="#e820e8" stroke-width="0.18" text-anchor="start" textLength="34.1" lengthAdjust="spacingAndGlyphs">1016.6 hPa</text>
<line x1="322.3" y1="22.8" x2="322.3" y2="192.8" stroke="#d4d4d4" stroke-width="1"/>
<line x1="349.5" y1="22.8" x2="349.5" y2="192.8" stroke="#d4d4d4" stroke-width="1"/>
<line x1="376.7" y1="22.8" x2="376.7" y2="192.8" stroke="#d4d4d4" stroke-width="1"/>
<line x1="404.0" y1="22.8" x2="404.0" y2="192.8" stroke="#d4d4d4" stroke-width="1"/>
<line x1="431.2" y1="22.8" x2="431.2" y2="192.8" stroke="#d4d4d4" stroke-width="1"/>
<line x1="458.4" y1="22.8" x2="458.4" y2="192.8" stroke="#d4d4d4" stroke-width="1"/>
<line x1="485.6" y1="22.8" x2="485.6" y2="192.8" stroke="#d4d4d4" stroke-width="1"/>
<line x1="512.8" y1="22.8" x2="512.8" y2="192.8" stroke="#d4d4d4" stroke-width="1"/>
<line x1="540.1" y1="22.8" x2="540.1" y2="192.8" stroke="#d4d4d4" stroke-width="1"/>
<line x1="567.3" y1="22.8" x2="567.3" y2="192.8" stroke="#d4d4d4" stroke-width="1"/>
<line x1="594.5" y1="22.8" x2="594.5" y2="192.8" stroke="#d4d4d4" stroke-width="1"/>
<line x1="621.7" y1="22.8" x2="621.7" y2="192.8" stroke="#d4d4d4" stroke-width="1"/>
<line x1="312.1" y1="175.8" x2="637.3" y2="175.8" stroke="#dcdcdc" stroke-width="0.9" stroke-dasharray="2.2,2.6"/>
<line x1="312.1" y1="158.8" x2="637.3" y2="158.8" stroke="#dcdcdc" stroke-width="0.9" stroke-dasharray="2.2,2.6"/>
<line x1="312.1" y1="141.8" x2="637.3" y2="141.8" stroke="#dcdcdc" stroke-width="0.9" stroke-dasharray="2.2,2.6"/>
<line x1="312.1" y1="124.8" x2="637.3" y2="124.8" stroke="#dcdcdc" stroke-width="0.9" stroke-dasharray="2.2,2.6"/>
<line x1="312.1" y1="107.8" x2="637.3" y2="107.8" stroke="#dcdcdc" stroke-width="0.9" stroke-dasharray="2.2,2.6"/>
<line x1="312.1" y1="90.8" x2="637.3" y2="90.8" stroke="#dcdcdc" stroke-width="0.9" stroke-dasharray="2.2,2.6"/>
<line x1="312.1" y1="73.8" x2="637.3" y2="73.8" stroke="#dcdcdc" stroke-width="0.9" stroke-dasharray="2.2,2.6"/>
<line x1="312.1" y1="56.8" x2="637.3" y2="56.8" stroke="#dcdcdc" stroke-width="0.9" stroke-dasharray="2.2,2.6"/>
<line x1="312.1" y1="39.8" x2="637.3" y2="39.8" stroke="#dcdcdc" stroke-width="0.9" stroke-dasharray="2.2,2.6"/>
<text x="306.7" y="196.3" font-family="Liberation Sans, sans-serif" font-size="9.2" font-weight="normal" fill="#e02828" stroke="#e02828" stroke-width="0.18" text-anchor="end">0</text>
<text x="642" y="196.3" font-family="Liberation Sans, sans-serif" font-size="9.1" font-weight="normal" fill="#e820e8" stroke="#e820e8" stroke-width="0.18" text-anchor="start">975</text>
<line x1="309.6" y1="192.8" x2="312.1" y2="192.8" stroke="#e02828" stroke-width="1"/>
<line x1="637.3" y1="192.8" x2="639.8" y2="192.8" stroke="#e820e8" stroke-width="1"/>
<text x="306.7" y="179.3" font-family="Liberation Sans, sans-serif" font-size="9.2" font-weight="normal" fill="#e02828" stroke="#e02828" stroke-width="0.18" text-anchor="end">3</text>
<text x="642" y="179.3" font-family="Liberation Sans, sans-serif" font-size="9.1" font-weight="normal" fill="#e820e8" stroke="#e820e8" stroke-width="0.18" text-anchor="start">980</text>
<line x1="309.6" y1="175.8" x2="312.1" y2="175.8" stroke="#e02828" stroke-width="1"/>
<line x1="637.3" y1="175.8" x2="639.8" y2="175.8" stroke="#e820e8" stroke-width="1"/>
<text x="306.7" y="162.3" font-family="Liberation Sans, sans-serif" font-size="9.2" font-weight="normal" fill="#e02828" stroke="#e02828" stroke-width="0.18" text-anchor="end">5</text>
<text x="642" y="162.3" font-family="Liberation Sans, sans-serif" font-size="9.1" font-weight="normal" fill="#e820e8" stroke="#e820e8" stroke-width="0.18" text-anchor="start">985</text>
<line x1="309.6" y1="158.8" x2="312.1" y2="158.8" stroke="#e02828" stroke-width="1"/>
<line x1="637.3" y1="158.8" x2="639.8" y2="158.8" stroke="#e820e8" stroke-width="1"/>
<text x="306.7" y="145.3" font-family="Liberation Sans, sans-serif" font-size="9.2" font-weight="normal" fill="#e02828" stroke="#e02828" stroke-width="0.18" text-anchor="end">8</text>
<text x="642" y="145.3" font-family="Liberation Sans, sans-serif" font-size="9.1" font-weight="normal" fill="#e820e8" stroke="#e820e8" stroke-width="0.18" text-anchor="start">990</text>
<line x1="309.6" y1="141.8" x2="312.1" y2="141.8" stroke="#e02828" stroke-width="1"/>
<line x1="637.3" y1="141.8" x2="639.8" y2="141.8" stroke="#e820e8" stroke-width="1"/>
<text x="306.7" y="128.3" font-family="Liberation Sans, sans-serif" font-size="9.2" font-weight="normal" fill="#e02828" stroke="#e02828" stroke-width="0.18" text-anchor="end">10</text>
<text x="642" y="128.3" font-family="Liberation Sans, sans-serif" font-size="9.1" font-weight="normal" fill="#e820e8" stroke="#e820e8" stroke-width="0.18" text-anchor="start">995</text>
<line x1="309.6" y1="124.8" x2="312.1" y2="124.8" stroke="#e02828" stroke-width="1"/>
<line x1="637.3" y1="124.8" x2="639.8" y2="124.8" stroke="#e820e8" stroke-width="1"/>
<text x="306.7" y="111.30000000000001" font-family="Liberation Sans, sans-serif" font-size="9.2" font-weight="normal" fill="#e02828" stroke="#e02828" stroke-width="0.18" text-anchor="end">13</text>
<text x="642" y="111.30000000000001" font-family="Liberation Sans, sans-serif" font-size="9.1" font-weight="normal" fill="#e820e8" stroke="#e820e8" stroke-width="0.18" text-anchor="start">1001</text>
<line x1="309.6" y1="107.8" x2="312.1" y2="107.8" stroke="#e02828" stroke-width="1"/>
<line x1="637.3" y1="107.8" x2="639.8" y2="107.8" stroke="#e820e8" stroke-width="1"/>
<text x="306.7" y="94.30000000000001" font-family="Liberation Sans, sans-serif" font-size="9.2" font-weight="normal" fill="#e02828" stroke="#e02828" stroke-width="0.18" text-anchor="end">15</text>
<text x="642" y="94.30000000000001" font-family="Liberation Sans, sans-serif" font-size="9.1" font-weight="normal" fill="#e820e8" stroke="#e820e8" stroke-width="0.18" text-anchor="start">1006</text>
<line x1="309.6" y1="90.8" x2="312.1" y2="90.8" stroke="#e02828" stroke-width="1"/>
<line x1="637.3" y1="90.8" x2="639.8" y2="90.8" stroke="#e820e8" stroke-width="1"/>
<text x="306.7" y="77.30000000000001" font-family="Liberation Sans, sans-serif" font-size="9.2" font-weight="normal" fill="#e02828" stroke="#e02828" stroke-width="0.18" text-anchor="end">18</text>
<text x="642" y="77.30000000000001" font-family="Liberation Sans, sans-serif" font-size="9.1" font-weight="normal" fill="#e820e8" stroke="#e820e8" stroke-width="0.18" text-anchor="start">1011</text>
<line x1="309.6" y1="73.8" x2="312.1" y2="73.8" stroke="#e02828" stroke-width="1"/>
<line x1="637.3" y1="73.8" x2="639.8" y2="73.8" stroke="#e820e8" stroke-width="1"/>
<text x="306.7" y="60.30000000000001" font-family="Liberation Sans, sans-serif" font-size="9.2" font-weight="normal" fill="#e02828" stroke="#e02828" stroke-width="0.18" text-anchor="end">20</text>
<text x="642" y="60.30000000000001" font-family="Liberation Sans, sans-serif" font-size="9.1" font-weight="normal" fill="#e820e8" stroke="#e820e8" stroke-width="0.18" text-anchor="start">1016</text>
<line x1="309.6" y1="56.8" x2="312.1" y2="56.8" stroke="#e02828" stroke-width="1"/>
<line x1="637.3" y1="56.8" x2="639.8" y2="56.8" stroke="#e820e8" stroke-width="1"/>
<text x="306.7" y="43.30000000000001" font-family="Liberation Sans, sans-serif" font-size="9.2" font-weight="normal" fill="#e02828" stroke="#e02828" stroke-width="0.18" text-anchor="end">23</text>
<text x="642" y="43.30000000000001" font-family="Liberation Sans, sans-serif" font-size="9.1" font-weight="normal" fill="#e820e8" stroke="#e820e8" stroke-width="0.18" text-anchor="start">1021</text>
<line x1="309.6" y1="39.8" x2="312.1" y2="39.8" stroke="#e02828" stroke-width="1"/>
<line x1="637.3" y1="39.8" x2="639.8" y2="39.8" stroke="#e820e8" stroke-width="1"/>
<text x="306.7" y="26.30000000000001" font-family="Liberation Sans, sans-serif" font-size="9.2" font-weight="normal" fill="#e02828" stroke="#e02828" stroke-width="0.18" text-anchor="end">25</text>
<text x="642" y="26.30000000000001" font-family="Liberation Sans, sans-serif" font-size="9.1" font-weight="normal" fill="#e820e8" stroke="#e820e8" stroke-width="0.18" text-anchor="start">1026</text>
<line x1="309.6" y1="22.8" x2="312.1" y2="22.8" stroke="#e02828" stroke-width="1"/>
<line x1="637.3" y1="22.8" x2="639.8" y2="22.8" stroke="#e820e8" stroke-width="1"/>
<polyline fill="none" stroke="#e820e8" stroke-width="1.25" points="312.5,39.6 316.0,39.5 319.5,39.7 323.0,40.1 326.5,40.3 330.0,40.2 333.3,41.0 336.7,40.6 340.0,41.0 343.3,40.9 346.7,41.4 350.0,42.0 353.0,41.7 356.0,41.5 359.0,41.8 362.0,41.9 365.0,42.4 368.0,41.8 371.0,41.9 374.0,42.6 377.0,42.7 380.0,42.4 383.1,42.4 386.2,42.5 389.4,42.2 392.5,42.9 395.6,42.6 398.8,42.6 401.9,42.7 405.0,42.4 408.1,42.7 411.2,42.8 414.4,42.8 417.5,42.9 420.6,43.2 423.8,42.6 426.9,43.3 430.0,43.4 433.0,43.4 436.1,42.7 439.1,43.4 442.2,43.1 445.2,43.1 448.3,43.1 451.3,43.1 454.3,43.1 457.4,43.5 460.4,43.2 463.5,43.2 466.5,43.6 469.6,43.2 472.6,43.6 475.7,43.0 478.7,43.6 481.7,43.0 484.8,43.3 487.8,43.0 490.9,43.0 493.9,43.7 497.0,43.1 500.0,43.4 503.0,43.6 506.0,43.8 509.0,44.5 512.0,44.9 516.0,45.8 520.0,46.3 523.3,46.2 526.7,46.4 530.0,46.7 533.3,47.2 536.7,47.4 540.0,47.3 543.0,47.8 546.0,48.0 549.0,48.2 552.0,48.4 555.0,49.0 558.0,49.2 561.0,49.1 564.0,49.3 567.0,49.5 570.2,50.2 573.4,50.1 576.7,50.4 579.9,50.7 583.1,51.4 586.3,51.7 589.6,51.7 592.8,52.0 596.0,52.0 599.2,52.2 602.3,52.8 605.5,53.4 608.7,53.0 611.8,53.5 615.0,53.5 618.2,54.0 621.3,54.0 624.5,54.5 627.7,54.7 630.8,55.0 634.0,55.2"/>
<path d="M313.2,158.8 L314.6,158.8 L314.6,152.0 L316.2,152.0 L316.2,158.8 L317.3,158.8 L317.3,152.0 L318.9,152.0 L318.9,158.8 L319.9,158.8 L319.9,152.0 L322.4,152.0 L322.4,165.6 L326.5,165.6 L326.5,145.2 L329.5,145.2 L329.5,152.0 L332.6,152.0 L332.6,145.2 L335.7,145.2 L335.7,158.8 L337.7,158.8 L337.7,158.8 L342.4,158.8 L342.4,165.6 L343.9,165.6 L343.9,158.8 L345.3,158.8 L345.3,152.0 L346.9,152.0 L346.9,145.2 L350.0,145.2 L350.0,152.0 L352.0,152.0 L352.0,158.8 L354.1,158.8 L354.1,172.4 L355.7,172.4 L355.7,152.0 L359.2,152.0 L359.2,158.8 L361.2,158.8 L361.2,145.2 L364.3,145.2 L364.3,138.4 L364.9,138.4 L364.9,145.2 L365.5,145.2 L365.5,138.4 L366.4,138.4 L366.4,131.6 L368.4,131.6 L368.4,138.4 L370.0,138.4 L370.0,145.2 L371.1,145.2 L371.1,138.4 L372.1,138.4 L372.1,145.2 L376.6,145.2 L376.6,152.0 L378.6,152.0 L378.6,145.2 L379.7,145.2 L379.7,152.0 L380.3,152.0 L380.3,145.2 L381.1,145.2 L381.1,152.0 L381.7,152.0 L381.7,145.2 L382.7,145.2 L382.7,152.0 L383.3,152.0 L383.3,145.2 L384.8,145.2 L384.8,158.8 L386.2,158.8 L386.2,165.6 L387.4,165.6 L387.4,158.8 L390.0,158.8 L390.0,158.8 L392.0,158.8 L392.0,152.0 L395.1,152.0 L395.1,158.8 L400.2,158.8 L400.2,152.0 L401.9,152.0 L401.9,145.2 L404.3,145.2 L404.3,158.8 L408.4,158.8 L408.4,152.0 L409.8,152.0 L409.8,158.8 L411.5,158.8 L411.5,172.4 L413.5,172.4 L413.5,192.8 L416.6,192.8 L416.6,158.8 L418.6,158.8 L418.6,172.4 L420.7,172.4 L420.7,165.6 L422.7,165.6 L422.7,172.4 L426.8,172.4 L426.8,186.0 L428.9,186.0 L428.9,172.4 L431.9,172.4 L431.9,165.6 L437.0,165.6 L437.0,158.8 L439.1,158.8 L439.1,165.6 L441.1,165.6 L441.1,158.8 L442.8,158.8 L442.8,165.6 L444.2,165.6 L444.2,158.8 L445.6,158.8 L445.6,165.6 L451.4,165.6 L451.4,158.8 L455.0,158.8 L455.0,165.6 L460.6,165.6 L460.6,158.8 L462.0,158.8 L462.0,172.4 L464.7,172.4 L464.7,165.6 L472.8,165.6 L472.8,172.4 L475.0,172.4 L475.0,172.4 L475.8,172.4 L475.8,158.8 L478.1,158.8 L478.1,165.6 L481.7,165.6 L481.7,172.4 L482.8,172.4 L482.8,165.6 L484.2,165.6 L484.2,158.8 L486.2,158.8 L486.2,165.6 L490.3,165.6 L490.3,179.2 L496.5,179.2 L496.5,172.4 L499.1,172.4 L499.1,165.6 L500.6,165.6 L500.6,172.4 L502.6,172.4 L502.6,158.8 L504.7,158.8 L504.7,172.4 L506.1,172.4 L506.1,186.0 L507.7,186.0 L507.7,172.4 L508.7,172.4 L508.7,158.8 L510.8,158.8 L510.8,165.6 L513.9,165.6 L513.9,158.8 L515.3,158.8 L515.3,152.0 L518.0,152.0 L518.0,145.2 L520.0,145.2 L520.0,138.4 L524.1,138.4 L524.1,145.2 L526.1,145.2 L526.1,152.0 L528.2,152.0 L528.2,145.2 L530.2,145.2 L530.2,152.0 L531.2,152.0 L531.2,145.2 L534.3,145.2 L534.3,152.0 L538.4,152.0 L538.4,145.2 L540.5,145.2 L540.5,152.0 L543.5,152.0 L543.5,145.2 L547.6,145.2 L547.6,152.0 L549.7,152.0 L549.7,138.4 L553.7,138.4 L553.7,145.2 L557.8,145.2 L557.8,152.0 L560.0,152.0 L560.0,152.0 L562.0,152.0 L562.0,145.2 L565.1,145.2 L565.1,152.0 L566.1,152.0 L566.1,145.2 L569.2,145.2 L569.2,152.0 L570.2,152.0 L570.2,145.2 L574.3,145.2 L574.3,138.4 L576.4,138.4 L576.4,131.6 L588.6,131.6 L588.6,124.8 L590.7,124.8 L590.7,131.6 L591.7,131.6 L591.7,124.8 L592.7,124.8 L592.7,131.6 L593.7,131.6 L593.7,124.8 L605.0,124.8 L605.0,118.0 L606.6,118.0 L606.6,124.8 L610.1,124.8 L610.1,131.6 L611.1,131.6 L611.1,124.8 L612.8,124.8 L612.8,131.6 L614.2,131.6 L614.2,118.0 L616.2,118.0 L616.2,131.6 L617.9,131.6 L617.9,124.8 L625.5,124.8 L625.5,118.0 L632.6,118.0 L632.6,111.2 L634.0,111.2" fill="none" stroke="#e02828" stroke-width="1.2" stroke-linejoin="miter"/>
<polyline fill="none" stroke="#1c1cd0" stroke-width="1.25" stroke-linejoin="round" points="313.2,167.3 320.3,165.6 327.5,165.6 331.6,163.6 335.7,163.6 341.8,166.2 344.9,168.3 349.0,160.1 352.0,162.2 356.1,168.3 360.2,166.2 363.3,163.2 366.4,157.0 370.5,149.9 373.5,155.0 376.6,159.1 379.7,158.1 381.7,160.1 383.7,156.6 386.8,163.2 388.9,167.3 390.0,166.2 394.1,160.1 397.2,164.2 400.2,168.3 404.3,157.5 407.4,168.3 410.5,165.2 413.5,177.5 416.2,186.7 419.7,177.5 422.3,172.4 424.8,175.5 427.8,183.6 430.5,187.7 433.0,181.6 436.0,173.4 439.1,167.3 442.2,169.3 445.2,167.3 449.3,171.4 452.4,171.4 455.5,168.3 458.5,167.3 461.6,166.2 464.7,171.4 467.7,170.3 471.8,171.4 475.0,173.4 478.1,170.3 481.1,168.3 484.2,170.3 487.3,169.3 490.3,173.4 493.4,181.6 497.1,186.7 499.5,184.7 502.6,179.5 505.7,177.5 508.1,182.6 510.8,178.5 513.9,172.4 516.9,166.2 520.0,160.1 523.1,154.0 525.1,153.0 528.2,158.1 531.2,161.1 534.3,156.0 537.4,151.9 540.5,154.0 543.5,157.5 546.6,154.0 549.7,150.9 553.7,146.8 556.8,148.9 560.0,153.4 566.1,152.4 572.3,152.4 576.4,149.3 580.5,141.1 583.5,139.1 588.6,138.7 592.7,134.0 596.8,133.0 599.9,127.8 601.9,128.2 604.0,131.9 609.1,132.3 613.2,133.4 619.3,133.0 625.5,131.9 629.5,125.8 633.6,124.8"/>
<path d="M312.1,193.8 V22.8 H637.3 V193.8 Z" fill="none" stroke="#111" stroke-width="1.5"/>
<text stroke="#2222dc" stroke-width="0.25" x="314.0" y="202.2" font-family="Liberation Sans, sans-serif" font-size="8.2" font-weight="normal" fill="#2222dc" stroke="#2222dc" stroke-width="0.18" text-anchor="start" textLength="8" lengthAdjust="spacingAndGlyphs">01</text>
<text stroke="#2222dc" stroke-width="0.25" x="321.9" y="202.2" font-family="Liberation Sans, sans-serif" font-size="8.2" font-weight="normal" fill="#2222dc" stroke="#2222dc" stroke-width="0.18" text-anchor="start" textLength="8" lengthAdjust="spacingAndGlyphs">02</text>
<text stroke="#2222dc" stroke-width="0.25" x="349.0" y="202.2" font-family="Liberation Sans, sans-serif" font-size="8.2" font-weight="normal" fill="#2222dc" stroke="#2222dc" stroke-width="0.18" text-anchor="start" textLength="8" lengthAdjust="spacingAndGlyphs">03</text>
<text stroke="#2222dc" stroke-width="0.25" x="376.2" y="202.2" font-family="Liberation Sans, sans-serif" font-size="8.2" font-weight="normal" fill="#2222dc" stroke="#2222dc" stroke-width="0.18" text-anchor="start" textLength="8" lengthAdjust="spacingAndGlyphs">04</text>
<text stroke="#2222dc" stroke-width="0.25" x="403.5" y="202.2" font-family="Liberation Sans, sans-serif" font-size="8.2" font-weight="normal" fill="#2222dc" stroke="#2222dc" stroke-width="0.18" text-anchor="start" textLength="8" lengthAdjust="spacingAndGlyphs">05</text>
<text stroke="#2222dc" stroke-width="0.25" x="430.7" y="202.2" font-family="Liberation Sans, sans-serif" font-size="8.2" font-weight="normal" fill="#2222dc" stroke="#2222dc" stroke-width="0.18" text-anchor="start" textLength="8" lengthAdjust="spacingAndGlyphs">06</text>
<text stroke="#2222dc" stroke-width="0.25" x="457.9" y="202.2" font-family="Liberation Sans, sans-serif" font-size="8.2" font-weight="normal" fill="#2222dc" stroke="#2222dc" stroke-width="0.18" text-anchor="start" textLength="8" lengthAdjust="spacingAndGlyphs">07</text>
<text stroke="#2222dc" stroke-width="0.25" x="485.1" y="202.2" font-family="Liberation Sans, sans-serif" font-size="8.2" font-weight="normal" fill="#2222dc" stroke="#2222dc" stroke-width="0.18" text-anchor="start" textLength="8" lengthAdjust="spacingAndGlyphs">08</text>
<text stroke="#2222dc" stroke-width="0.25" x="512.3" y="202.2" font-family="Liberation Sans, sans-serif" font-size="8.2" font-weight="normal" fill="#2222dc" stroke="#2222dc" stroke-width="0.18" text-anchor="start" textLength="8" lengthAdjust="spacingAndGlyphs">09</text>
<text stroke="#2222dc" stroke-width="0.25" x="539.6" y="202.2" font-family="Liberation Sans, sans-serif" font-size="8.2" font-weight="normal" fill="#2222dc" stroke="#2222dc" stroke-width="0.18" text-anchor="start" textLength="8" lengthAdjust="spacingAndGlyphs">10</text>
<text stroke="#2222dc" stroke-width="0.25" x="566.8" y="202.2" font-family="Liberation Sans, sans-serif" font-size="8.2" font-weight="normal" fill="#2222dc" stroke="#2222dc" stroke-width="0.18" text-anchor="start" textLength="8" lengthAdjust="spacingAndGlyphs">11</text>
<text stroke="#2222dc" stroke-width="0.25" x="594.0" y="202.2" font-family="Liberation Sans, sans-serif" font-size="8.2" font-weight="normal" fill="#2222dc" stroke="#2222dc" stroke-width="0.18" text-anchor="start" textLength="8" lengthAdjust="spacingAndGlyphs">12</text>
<text stroke="#2222dc" stroke-width="0.25" x="621.2" y="202.2" font-family="Liberation Sans, sans-serif" font-size="8.2" font-weight="normal" fill="#2222dc" stroke="#2222dc" stroke-width="0.18" text-anchor="start" textLength="8" lengthAdjust="spacingAndGlyphs">13</text>
<rect x="430.5" y="200.6" width="23.5" height="9" fill="#fff"/>
<text x="431.5" y="208.4" font-family="Liberation Sans, sans-serif" font-size="7.2" font-weight="normal" fill="#1c1cd0" stroke="#1c1cd0" stroke-width="0.18" text-anchor="start" textLength="21.3" lengthAdjust="spacingAndGlyphs">sunrise</text>
<polygon points="316.4,192.8 320.4,192.8 318.4,196.4" fill="#111"/>
<line x1="322.3" y1="209.9" x2="322.3" y2="264.6" stroke="#d4d4d4" stroke-width="1"/>
<line x1="349.5" y1="209.9" x2="349.5" y2="264.6" stroke="#d4d4d4" stroke-width="1"/>
<line x1="376.7" y1="209.9" x2="376.7" y2="264.6" stroke="#d4d4d4" stroke-width="1"/>
<line x1="404.0" y1="209.9" x2="404.0" y2="264.6" stroke="#d4d4d4" stroke-width="1"/>
<line x1="431.2" y1="209.9" x2="431.2" y2="264.6" stroke="#d4d4d4" stroke-width="1"/>
<line x1="458.4" y1="209.9" x2="458.4" y2="264.6" stroke="#d4d4d4" stroke-width="1"/>
<line x1="485.6" y1="209.9" x2="485.6" y2="264.6" stroke="#d4d4d4" stroke-width="1"/>
<line x1="512.8" y1="209.9" x2="512.8" y2="264.6" stroke="#d4d4d4" stroke-width="1"/>
<line x1="540.1" y1="209.9" x2="540.1" y2="264.6" stroke="#d4d4d4" stroke-width="1"/>
<line x1="567.3" y1="209.9" x2="567.3" y2="264.6" stroke="#d4d4d4" stroke-width="1"/>
<line x1="594.5" y1="209.9" x2="594.5" y2="264.6" stroke="#d4d4d4" stroke-width="1"/>
<line x1="621.7" y1="209.9" x2="621.7" y2="264.6" stroke="#d4d4d4" stroke-width="1"/>
<line x1="312.1" y1="223.8" x2="637.3" y2="223.8" stroke="#dcdcdc" stroke-width="0.9" stroke-dasharray="2.2,2.6"/>
<line x1="312.1" y1="236.5" x2="637.3" y2="236.5" stroke="#dcdcdc" stroke-width="0.9" stroke-dasharray="2.2,2.6"/>
<line x1="312.1" y1="249.2" x2="637.3" y2="249.2" stroke="#dcdcdc" stroke-width="0.9" stroke-dasharray="2.2,2.6"/>
<text x="304.4" y="214.79999999999998" font-family="Liberation Sans, sans-serif" font-size="8.9" font-weight="normal" fill="#e02828" stroke="#e02828" stroke-width="0.18" text-anchor="end">360</text>
<text x="640.2" y="215.2" font-family="Liberation Sans, sans-serif" font-size="9.6" font-weight="normal" fill="#e02828" stroke="#e02828" stroke-width="0.18" text-anchor="start">N</text>
<text x="304.4" y="227.45" font-family="Liberation Sans, sans-serif" font-size="8.9" font-weight="normal" fill="#e02828" stroke="#e02828" stroke-width="0.18" text-anchor="end">270</text>
<text x="640.2" y="227.85" font-family="Liberation Sans, sans-serif" font-size="9.6" font-weight="normal" fill="#e02828" stroke="#e02828" stroke-width="0.18" text-anchor="start">W</text>
<text x="304.4" y="240.1" font-family="Liberation Sans, sans-serif" font-size="8.9" font-weight="normal" fill="#e02828" stroke="#e02828" stroke-width="0.18" text-anchor="end">180</text>
<text x="640.2" y="240.5" font-family="Liberation Sans, sans-serif" font-size="9.6" font-weight="normal" fill="#e02828" stroke="#e02828" stroke-width="0.18" text-anchor="start">S</text>
<text x="304.4" y="252.75" font-family="Liberation Sans, sans-serif" font-size="8.9" font-weight="normal" fill="#e02828" stroke="#e02828" stroke-width="0.18" text-anchor="end">90</text>
<text x="640.2" y="253.15" font-family="Liberation Sans, sans-serif" font-size="9.6" font-weight="normal" fill="#e02828" stroke="#e02828" stroke-width="0.18" text-anchor="start">E</text>
<text x="304.4" y="265.4" font-family="Liberation Sans, sans-serif" font-size="8.9" font-weight="normal" fill="#e02828" stroke="#e02828" stroke-width="0.18" text-anchor="end">0</text>
<text x="640.2" y="265.8" font-family="Liberation Sans, sans-serif" font-size="9.6" font-weight="normal" fill="#e02828" stroke="#e02828" stroke-width="0.18" text-anchor="start">N</text>
<text x="650" y="241.6" font-family="Liberation Sans, sans-serif" font-size="9.2" font-weight="normal" fill="#e02828" stroke="#e02828" stroke-width="0.18" text-anchor="start">268</text>
<polyline fill="none" stroke="#e02828" stroke-width="1.15" stroke-linejoin="round" points="313.5,259.5 314.9,259.2 316.3,258.3 317.7,259.5 319.1,259.3 320.5,259.1 321.9,260.2 323.3,259.3 324.7,259.0 326.1,258.6 327.5,260.4 328.9,259.9 330.3,260.4 331.7,258.6 333.1,256.7 334.5,258.3 335.9,255.9 337.3,256.0 338.7,256.8 340.1,259.1 341.5,260.2 342.9,260.6 344.3,259.3 345.7,260.5 347.1,260.1 348.5,260.0 349.9,260.5 351.3,257.2 352.7,257.3 354.1,258.5 355.5,259.3 356.9,259.0 358.3,259.4 359.7,259.0 361.1,259.5 362.5,259.9 363.9,258.1 365.3,259.5 366.7,259.9 368.1,260.2 369.5,261.2 370.9,261.3 372.3,261.3 373.7,261.3 375.1,258.7 376.5,257.4 377.9,256.3 379.3,257.4 380.7,256.0 382.1,256.3 383.5,258.4 384.9,260.1 386.3,258.3 387.7,259.4 389.1,258.2 390.5,259.6 391.9,260.4 393.3,259.0 394.7,258.7 396.1,257.7 397.5,258.2 398.9,257.6 400.3,256.0 401.7,256.5 403.1,260.3 404.5,260.0 405.9,260.4 407.3,260.5 408.7,258.6 410.1,260.2 411.5,259.2 412.9,259.5 414.3,260.1 414.8,258.8 415.2,237.8 416.0,237.8 416.3,256.0 417.1,260.3 418.5,259.0 419.9,260.3 421.3,259.6 422.7,260.1 424.1,259.9 425.5,258.2 427.0,256.0 427.4,213.6 428.3,214.5 428.6,218.5 429.2,216.0 429.6,221.0 430.4,221.0 430.8,257.4 432.5,258.4 433.9,256.5 435.3,257.4 436.7,259.6 438.1,255.9 439.5,259.2 440.9,259.0 442.3,256.8 443.7,258.7 445.1,258.8 446.5,259.8 447.9,259.7 449.3,257.6 450.7,259.0 452.1,257.6 453.5,258.5 454.9,258.2 456.3,256.1 457.7,258.0 459.1,257.7 460.5,256.4 461.9,259.3 463.3,259.4 464.7,256.3 466.1,256.6 467.5,259.0 468.9,259.3 470.3,257.0 471.7,256.1 473.1,259.2 474.5,256.1 475.9,256.4 477.3,257.5 478.7,258.3 480.1,259.6 481.5,259.9 482.9,256.0 484.3,259.1 485.7,257.1 487.1,259.0 488.5,256.6 489.9,257.6 491.3,258.8 491.8,256.0 492.3,212.0 493.6,211.8 494.0,214.0 494.8,213.0 495.2,262.6 497.8,262.6 498.6,213.8 499.6,213.2 500.6,214.4 501.6,213.6 502.8,215.4 503.8,214.8 505.0,216.6 506.0,215.8 507.4,217.8 508.6,217.0 509.8,219.0 511.0,219.8 512.2,220.8 513.4,220.2 514.6,222.0 515.8,222.8 517.0,222.1 518.6,223.0 520.2,222.1 521.8,222.4 523.4,223.0 525.0,223.6 526.6,223.3 528.2,222.9 529.8,224.0 531.4,222.9 533.0,222.7 534.6,223.2 536.2,223.5 537.8,223.0 539.4,223.3 541.0,223.7 542.6,224.1 544.2,223.5 545.8,223.9 547.4,224.9 549.0,225.1 550.6,224.7 552.2,224.8 553.8,225.6 555.4,225.0 557.0,224.9 558.6,224.0 560.2,225.5 561.8,225.1 563.4,225.5 565.0,224.0 566.6,225.0 568.2,224.8 569.8,225.2 571.4,224.5 573.0,225.6 574.6,224.1 576.2,224.9 577.8,225.2 579.4,225.4 581.0,225.2 582.6,224.5 584.2,224.7 585.8,224.9 587.4,224.0 589.0,224.5 590.6,224.8 592.2,224.8 593.8,224.1 595.4,224.7 597.0,224.8 598.6,224.3 600.2,224.4 601.8,224.0 603.4,224.3 605.0,224.4 606.6,223.5 608.2,224.4 609.8,225.0 611.4,224.8 613.0,224.6 614.6,224.0 616.2,224.6 617.8,224.3 619.4,224.1 621.0,224.7 622.6,223.5 624.2,224.6 625.8,223.4 627.4,223.2 629.0,223.0 630.6,222.6 632.2,224.5 633.8,224.2"/>
<rect x="312.1" y="209.9" width="325.19999999999993" height="54.70000000000002" fill="none" stroke="#111" stroke-width="1.5"/>
<text x="283.7" y="276.4" font-family="Liberation Serif, serif" font-size="8.6" font-weight="normal" fill="#e02828" stroke="#e02828" stroke-width="0.18" text-anchor="start" textLength="24" lengthAdjust="spacingAndGlyphs">Pioggia</text>
<text x="317.4" y="276.6" font-family="Liberation Serif, serif" font-size="8.2" font-weight="normal" fill="#e02828" stroke="#e02828" stroke-width="0.18" text-anchor="start" textLength="24.4" lengthAdjust="spacingAndGlyphs">0.0 mm</text>
<text x="342.2" y="271.6" font-family="Liberation Serif, serif" font-size="7.4" font-weight="bold" fill="#1c1cd0" stroke="#1c1cd0" stroke-width="0.18" text-anchor="start" textLength="22.5" lengthAdjust="spacingAndGlyphs">Umidita</text>
<text x="383" y="272.6" font-family="Liberation Serif, serif" font-size="7.4" font-weight="bold" fill="#1c1cd0" stroke="#1c1cd0" stroke-width="0.18" text-anchor="start" textLength="12.5" lengthAdjust="spacingAndGlyphs">70 %</text>
<text x="532" y="272.4" font-family="Liberation Serif, serif" font-size="7.4" font-weight="bold" fill="#0a7a14" stroke="#0a7a14" stroke-width="0.18" text-anchor="start" textLength="36" lengthAdjust="spacingAndGlyphs">Temperatura</text>
<text x="583" y="272.4" font-family="Liberation Serif, serif" font-size="7.4" font-weight="bold" fill="#0a7a14" stroke="#0a7a14" stroke-width="0.18" text-anchor="start" textLength="20" lengthAdjust="spacingAndGlyphs">18.7 °C</text>
<text x="612.3" y="276.5" font-family="Liberation Serif, serif" font-size="8.2" font-weight="normal" fill="#e820e8" stroke="#e820e8" stroke-width="0.18" text-anchor="start" textLength="33" lengthAdjust="spacingAndGlyphs">Dew Point</text>
<text x="651" y="276.5" font-family="Liberation Sans, sans-serif" font-size="8" font-weight="normal" fill="#e820e8" stroke="#e820e8" stroke-width="0.18" text-anchor="start" textLength="11" lengthAdjust="spacingAndGlyphs">13.1</text>
<line x1="312.1" y1="300.7" x2="637.3" y2="300.7" stroke="#dcdcdc" stroke-width="0.9" stroke-dasharray="2.2,2.6"/>
<line x1="312.1" y1="315.8" x2="637.3" y2="315.8" stroke="#dcdcdc" stroke-width="0.9" stroke-dasharray="2.2,2.6"/>
<line x1="312.1" y1="331.0" x2="637.3" y2="331.0" stroke="#dcdcdc" stroke-width="0.9" stroke-dasharray="2.2,2.6"/>
<line x1="312.1" y1="346.1" x2="637.3" y2="346.1" stroke="#dcdcdc" stroke-width="0.9" stroke-dasharray="2.2,2.6"/>
<line x1="312.1" y1="361.2" x2="637.3" y2="361.2" stroke="#dcdcdc" stroke-width="0.9" stroke-dasharray="2.2,2.6"/>
<line x1="312.1" y1="376.3" x2="637.3" y2="376.3" stroke="#dcdcdc" stroke-width="0.9" stroke-dasharray="2.2,2.6"/>
<line x1="312.1" y1="391.4" x2="637.3" y2="391.4" stroke="#dcdcdc" stroke-width="0.9" stroke-dasharray="2.2,2.6"/>
<line x1="312.1" y1="406.6" x2="637.3" y2="406.6" stroke="#dcdcdc" stroke-width="0.9" stroke-dasharray="2.2,2.6"/>
<line x1="312.1" y1="421.7" x2="637.3" y2="421.7" stroke="#dcdcdc" stroke-width="0.9" stroke-dasharray="2.2,2.6"/>
<text x="283.1" y="288.90000000000003" font-family="Liberation Sans, sans-serif" font-size="9" font-weight="normal" fill="#1c1cd0" stroke="#1c1cd0" stroke-width="0.18" text-anchor="start" textLength="14.8" lengthAdjust="spacingAndGlyphs">100</text>
<text x="297.7" y="288.90000000000003" font-family="Liberation Sans, sans-serif" font-size="9" font-weight="normal" fill="#e02828" stroke="#e02828" stroke-width="0.18" text-anchor="start" textLength="8.8" lengthAdjust="spacingAndGlyphs">30</text>
<text x="641.8" y="288.90000000000003" font-family="Liberation Sans, sans-serif" font-size="9.1" font-weight="normal" fill="#0a7a14" stroke="#0a7a14" stroke-width="0.18" text-anchor="start">40</text>
<line x1="637.3" y1="285.6" x2="639.8" y2="285.6" stroke="#0a7a14" stroke-width="1"/>
<line x1="309.90000000000003" y1="285.6" x2="312.1" y2="285.6" stroke="#e02828" stroke-width="1"/>
<text x="283.2" y="304.02000000000004" font-family="Liberation Sans, sans-serif" font-size="9" font-weight="normal" fill="#1c1cd0" stroke="#1c1cd0" stroke-width="0.18" text-anchor="start">90</text>
<text x="306.6" y="304.02000000000004" font-family="Liberation Sans, sans-serif" font-size="9" font-weight="normal" fill="#e02828" stroke="#e02828" stroke-width="0.18" text-anchor="end">27</text>
<text x="641.8" y="304.02000000000004" font-family="Liberation Sans, sans-serif" font-size="9.1" font-weight="normal" fill="#0a7a14" stroke="#0a7a14" stroke-width="0.18" text-anchor="start">36</text>
<line x1="637.3" y1="300.7" x2="639.8" y2="300.7" stroke="#0a7a14" stroke-width="1"/>
<line x1="309.90000000000003" y1="300.7" x2="312.1" y2="300.7" stroke="#e02828" stroke-width="1"/>
<text x="283.2" y="319.14000000000004" font-family="Liberation Sans, sans-serif" font-size="9" font-weight="normal" fill="#1c1cd0" stroke="#1c1cd0" stroke-width="0.18" text-anchor="start">80</text>
<text x="306.6" y="319.14000000000004" font-family="Liberation Sans, sans-serif" font-size="9" font-weight="normal" fill="#e02828" stroke="#e02828" stroke-width="0.18" text-anchor="end">24</text>
<text x="641.8" y="319.14000000000004" font-family="Liberation Sans, sans-serif" font-size="9.1" font-weight="normal" fill="#0a7a14" stroke="#0a7a14" stroke-width="0.18" text-anchor="start">32</text>
<line x1="637.3" y1="315.8" x2="639.8" y2="315.8" stroke="#0a7a14" stroke-width="1"/>
<line x1="309.90000000000003" y1="315.8" x2="312.1" y2="315.8" stroke="#e02828" stroke-width="1"/>
<text x="283.2" y="334.26000000000005" font-family="Liberation Sans, sans-serif" font-size="9" font-weight="normal" fill="#1c1cd0" stroke="#1c1cd0" stroke-width="0.18" text-anchor="start">70</text>
<text x="306.6" y="334.26000000000005" font-family="Liberation Sans, sans-serif" font-size="9" font-weight="normal" fill="#e02828" stroke="#e02828" stroke-width="0.18" text-anchor="end">21</text>
<text x="641.8" y="334.26000000000005" font-family="Liberation Sans, sans-serif" font-size="9.1" font-weight="normal" fill="#0a7a14" stroke="#0a7a14" stroke-width="0.18" text-anchor="start">28</text>
<line x1="637.3" y1="331.0" x2="639.8" y2="331.0" stroke="#0a7a14" stroke-width="1"/>
<line x1="309.90000000000003" y1="331.0" x2="312.1" y2="331.0" stroke="#e02828" stroke-width="1"/>
<text x="283.2" y="349.38000000000005" font-family="Liberation Sans, sans-serif" font-size="9" font-weight="normal" fill="#1c1cd0" stroke="#1c1cd0" stroke-width="0.18" text-anchor="start">60</text>
<text x="306.6" y="349.38000000000005" font-family="Liberation Sans, sans-serif" font-size="9" font-weight="normal" fill="#e02828" stroke="#e02828" stroke-width="0.18" text-anchor="end">18</text>
<text x="641.8" y="349.38000000000005" font-family="Liberation Sans, sans-serif" font-size="9.1" font-weight="normal" fill="#0a7a14" stroke="#0a7a14" stroke-width="0.18" text-anchor="start">24</text>
<line x1="637.3" y1="346.1" x2="639.8" y2="346.1" stroke="#0a7a14" stroke-width="1"/>
<line x1="309.90000000000003" y1="346.1" x2="312.1" y2="346.1" stroke="#e02828" stroke-width="1"/>
<text x="283.2" y="364.50000000000006" font-family="Liberation Sans, sans-serif" font-size="9" font-weight="normal" fill="#1c1cd0" stroke="#1c1cd0" stroke-width="0.18" text-anchor="start">50</text>
<text x="306.6" y="364.50000000000006" font-family="Liberation Sans, sans-serif" font-size="9" font-weight="normal" fill="#e02828" stroke="#e02828" stroke-width="0.18" text-anchor="end">15</text>
<text x="641.8" y="364.50000000000006" font-family="Liberation Sans, sans-serif" font-size="9.1" font-weight="normal" fill="#0a7a14" stroke="#0a7a14" stroke-width="0.18" text-anchor="start">20</text>
<line x1="637.3" y1="361.2" x2="639.8" y2="361.2" stroke="#0a7a14" stroke-width="1"/>
<line x1="309.90000000000003" y1="361.2" x2="312.1" y2="361.2" stroke="#e02828" stroke-width="1"/>
<text x="283.2" y="379.62000000000006" font-family="Liberation Sans, sans-serif" font-size="9" font-weight="normal" fill="#1c1cd0" stroke="#1c1cd0" stroke-width="0.18" text-anchor="start">40</text>
<text x="306.6" y="379.62000000000006" font-family="Liberation Sans, sans-serif" font-size="9" font-weight="normal" fill="#e02828" stroke="#e02828" stroke-width="0.18" text-anchor="end">12</text>
<text x="641.8" y="379.62000000000006" font-family="Liberation Sans, sans-serif" font-size="9.1" font-weight="normal" fill="#0a7a14" stroke="#0a7a14" stroke-width="0.18" text-anchor="start">16</text>
<line x1="637.3" y1="376.3" x2="639.8" y2="376.3" stroke="#0a7a14" stroke-width="1"/>
<line x1="309.90000000000003" y1="376.3" x2="312.1" y2="376.3" stroke="#e02828" stroke-width="1"/>
<text x="283.2" y="394.74" font-family="Liberation Sans, sans-serif" font-size="9" font-weight="normal" fill="#1c1cd0" stroke="#1c1cd0" stroke-width="0.18" text-anchor="start">30</text>
<text x="306.6" y="394.74" font-family="Liberation Sans, sans-serif" font-size="9" font-weight="normal" fill="#e02828" stroke="#e02828" stroke-width="0.18" text-anchor="end">9</text>
<text x="641.8" y="394.74" font-family="Liberation Sans, sans-serif" font-size="9.1" font-weight="normal" fill="#0a7a14" stroke="#0a7a14" stroke-width="0.18" text-anchor="start">12</text>
<line x1="637.3" y1="391.4" x2="639.8" y2="391.4" stroke="#0a7a14" stroke-width="1"/>
<line x1="309.90000000000003" y1="391.4" x2="312.1" y2="391.4" stroke="#e02828" stroke-width="1"/>
<text x="283.2" y="409.86" font-family="Liberation Sans, sans-serif" font-size="9" font-weight="normal" fill="#1c1cd0" stroke="#1c1cd0" stroke-width="0.18" text-anchor="start">20</text>
<text x="306.6" y="409.86" font-family="Liberation Sans, sans-serif" font-size="9" font-weight="normal" fill="#e02828" stroke="#e02828" stroke-width="0.18" text-anchor="end">6</text>
<text x="641.8" y="409.86" font-family="Liberation Sans, sans-serif" font-size="9.1" font-weight="normal" fill="#0a7a14" stroke="#0a7a14" stroke-width="0.18" text-anchor="start">8</text>
<line x1="637.3" y1="406.6" x2="639.8" y2="406.6" stroke="#0a7a14" stroke-width="1"/>
<line x1="309.90000000000003" y1="406.6" x2="312.1" y2="406.6" stroke="#e02828" stroke-width="1"/>
<text x="283.2" y="424.98" font-family="Liberation Sans, sans-serif" font-size="9" font-weight="normal" fill="#1c1cd0" stroke="#1c1cd0" stroke-width="0.18" text-anchor="start">10</text>
<text x="306.6" y="424.98" font-family="Liberation Sans, sans-serif" font-size="9" font-weight="normal" fill="#e02828" stroke="#e02828" stroke-width="0.18" text-anchor="end">3</text>
<text x="641.8" y="424.98" font-family="Liberation Sans, sans-serif" font-size="9.1" font-weight="normal" fill="#0a7a14" stroke="#0a7a14" stroke-width="0.18" text-anchor="start">4</text>
<line x1="637.3" y1="421.7" x2="639.8" y2="421.7" stroke="#0a7a14" stroke-width="1"/>
<line x1="309.90000000000003" y1="421.7" x2="312.1" y2="421.7" stroke="#e02828" stroke-width="1"/>
<text x="283.2" y="440.1" font-family="Liberation Sans, sans-serif" font-size="9" font-weight="normal" fill="#1c1cd0" stroke="#1c1cd0" stroke-width="0.18" text-anchor="start">0</text>
<text x="306.6" y="440.1" font-family="Liberation Sans, sans-serif" font-size="9" font-weight="normal" fill="#e02828" stroke="#e02828" stroke-width="0.18" text-anchor="end">0</text>
<text x="641.8" y="440.1" font-family="Liberation Sans, sans-serif" font-size="9.1" font-weight="normal" fill="#0a7a14" stroke="#0a7a14" stroke-width="0.18" text-anchor="start">0</text>
<line x1="637.3" y1="436.8" x2="639.8" y2="436.8" stroke="#0a7a14" stroke-width="1"/>
<line x1="309.90000000000003" y1="436.8" x2="312.1" y2="436.8" stroke="#e02828" stroke-width="1"/>
<polyline fill="none" stroke="#1c1cd0" stroke-width="1.2" points="313.5,312.7 318.0,312.7 318.4,311.0 330.5,311.0 331.0,309.2 336.0,309.2 336.4,311.0 345.0,311.0 345.5,309.3 459.5,309.3 460.0,307.8 476.0,307.8 476.4,306.6 493.0,306.6 493.5,305.1 506.4,305.1 507.0,306.4 524.0,306.6 527.0,308.6 530.0,311.0 533.0,312.0 536.0,313.8 539.0,314.4 542.7,316.0 548.0,316.8 553.6,317.8 559.0,318.2 564.5,319.4 570.0,320.6 575.0,320.6 581.0,321.8 586.4,321.8 592.0,322.6 597.3,323.0 603.0,324.6 608.0,325.0 610.0,326.0 613.0,325.4 616.0,326.6 619.0,326.2 622.0,327.4 626.0,327.8 630.0,328.4 634.4,330.6"/>
<polyline fill="none" stroke="#0a7a14" stroke-width="1.2" points="313.5,404.7 333.0,404.8 347.0,405.8 360.0,407.0 372.7,408.0 388.0,409.0 401.8,409.8 415.0,411.2 427.0,412.7 445.0,413.8 456.0,414.3 462.0,414.4 468.0,413.4 474.0,412.0 481.0,409.2 486.5,406.2 491.8,403.0 497.0,399.4 502.7,395.6 508.0,392.0 513.6,388.4 519.0,385.8 524.5,383.3 530.0,381.4 535.5,379.6 541.0,378.2 546.4,377.0 552.0,377.2 557.3,376.7 563.0,375.6 568.2,374.5 574.0,373.0 579.0,371.6 585.0,370.6 590.0,370.0 596.0,369.2 601.0,368.4 607.0,367.6 611.8,367.0 617.0,366.3 622.7,365.8 628.0,365.6 634.4,365.5"/>
<polyline fill="none" stroke="#e820e8" stroke-width="1.2" points="313.5,416.4 318.0,416.4 319.0,414.6 336.0,414.6 337.0,415.6 347.0,415.6 360.0,416.6 372.7,417.0 386.0,418.2 398.0,419.0 410.0,420.2 420.0,421.0 430.0,422.2 438.0,423.0 445.0,423.5 462.0,423.6 468.0,422.6 474.0,421.0 481.0,417.6 486.5,414.4 491.8,411.0 497.0,407.8 502.7,404.4 508.0,401.0 513.6,397.5 519.0,395.2 524.5,393.5 530.0,392.6 535.5,392.0 541.0,390.6 546.4,389.5 552.0,390.4 557.3,390.5 563.0,389.8 568.2,389.5 574.0,388.0 579.0,387.0 585.0,386.8 590.0,386.5 596.0,386.0 601.0,385.8 607.0,385.6 611.8,385.5 617.0,385.0 622.7,384.7 627.0,385.0 630.0,385.4 634.4,387.0"/>
<line x1="312.1" y1="437.3" x2="637.3" y2="437.3" stroke="#d85c5c" stroke-width="2"/>
<path d="M312.1,440.3 V282.6 H637.3 V440.3" fill="none" stroke="#111" stroke-width="1.5"/>
<polygon points="628.6,279.6 628.6,283 632.6,283" fill="#111"/>
</svg>
<div class="b" style="left:0;top:437.5px;width:10.3px;height:3px;background:#e4e4e6"></div><div class="b" style="left:10.3px;top:437.5px;width:166px;height:3px;background:#f3f5fb"></div><div class="b" style="left:176px;top:438.7px;width:108px;height:2px;background:#f3f5fb"></div>
</div></body></html>
